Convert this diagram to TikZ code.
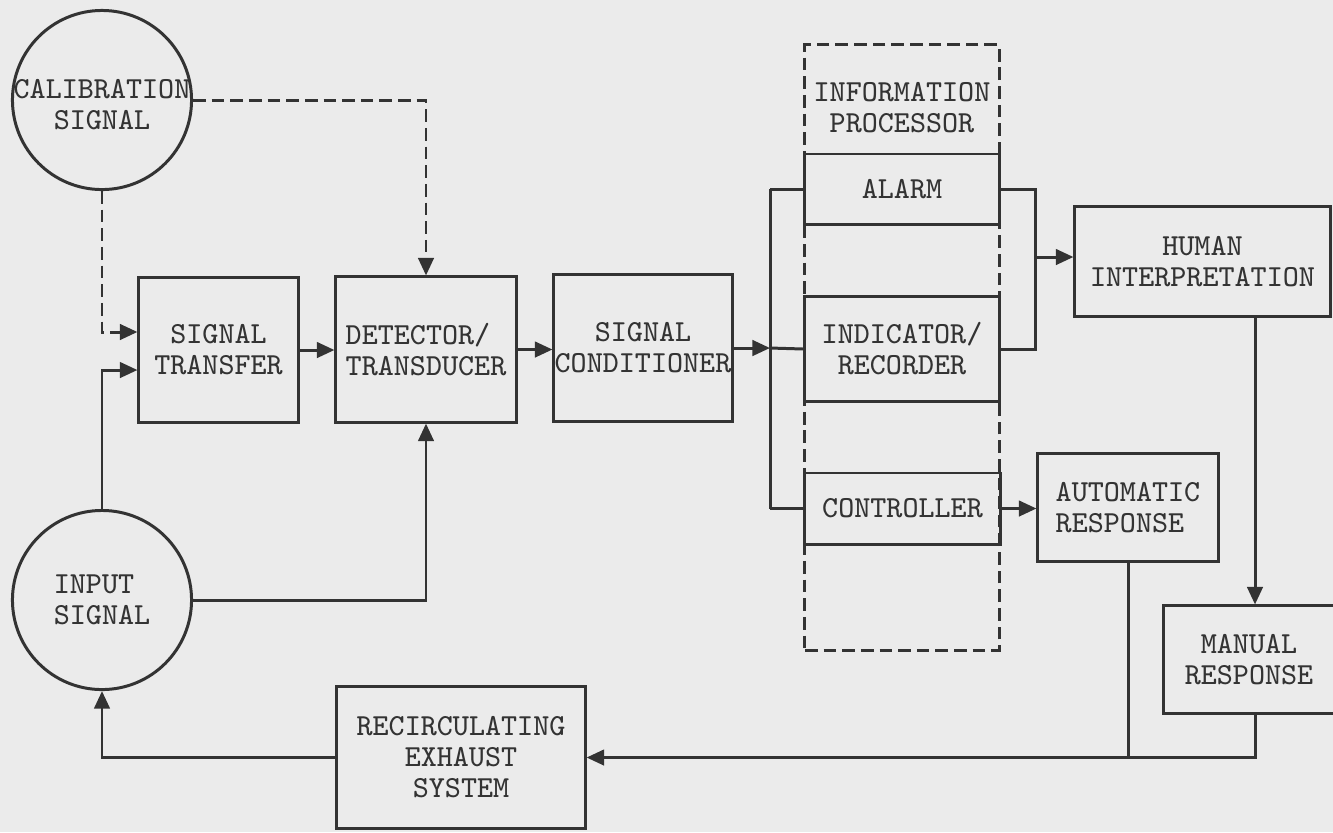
\documentclass[tikz,border=0pt]{standalone}
\usetikzlibrary{arrows.meta,calc}

\definecolor{paper}{HTML}{EBEBEB}
\definecolor{ink}{HTML}{333333}

\begin{document}
\begin{tikzpicture}[x=0.01cm,y=-0.01cm,
  line width=0.85pt, color=ink,
  every node/.style={font=\ttfamily\fontsize{8.7}{8.8}\selectfont, align=center, inner sep=1pt},
  blk/.style={draw, rectangle},
  sig/.style={draw, circle, minimum size=1.79cm, inner sep=0pt},
  arr/.style={-{Triangle[length=5pt,width=4.4pt]}},
  dsh/.style={dash pattern=on 3.6pt off 1.7pt}]

\fill[paper] (0,0) rectangle (1333,832);
\useasboundingbox (0,0) rectangle (1333,832);

% signal sources
\node[sig] (calib) at (102,100) {};
\node[yshift=-0.05cm] (calibtxt) at (calib) {CALIBRATION\\SIGNAL};
\node[sig] (input) at (102,600) {};
\node[align=left] (inputtxt) at (input) {INPUT\\SIGNAL};

% main chain
\node[blk, minimum width=1.59cm, minimum height=1.44cm] (transfer) at (218.5,350) {SIGNAL\\TRANSFER};
\node[blk, minimum width=1.80cm, minimum height=1.45cm, align=left] (det) at (426,349.5) {DETECTOR/\\TRANSDUCER};
\node[blk, minimum width=1.78cm, minimum height=1.46cm, inner sep=0pt] (cond) at (643,348) {SIGNAL\\CONDITIONER};

% information processor
\node[draw, dsh, minimum width=1.94cm, minimum height=6.05cm] (proc) at (902,347.5) {};
\node (proctxt) at (902,107.5) {INFORMATION\\PROCESSOR};
\node[blk, minimum width=1.94cm, minimum height=0.70cm] (alarm) at (902,189) {ALARM};
\node[blk, minimum width=1.94cm, minimum height=1.04cm] (ind) at (902,349) {INDICATOR/\\RECORDER};
\node[blk, minimum width=1.95cm, minimum height=0.71cm] (ctrl) at (902.5,508.5) {CONTROLLER};

% responses
\node[blk, minimum width=2.55cm, minimum height=1.09cm] (human) at (1202.5,261.5) {HUMAN\\INTERPRETATION};
\node[blk, minimum width=1.80cm, minimum height=1.07cm, align=left] (auto) at (1128,507.5) {AUTOMATIC\\RESPONSE};
\node[blk, minimum width=1.70cm, minimum height=1.07cm] (manual) at (1249,659.5) {MANUAL\\RESPONSE};
\node[blk, minimum width=2.48cm, minimum height=1.41cm] (recirc) at (461,757.5) {RECIRCULATING\\EXHAUST\\SYSTEM};

\coordinate (busT) at (770,189);
\coordinate (busB) at (770,508.5);
\coordinate (join) at (1035,257);
\coordinate (mdrop) at (1255,0);

% calibration paths
\draw[arr, dsh] (calib.east) -| (det.north);
\draw[arr, dsh] (calib.south) |- ([yshift=0.18cm]transfer.west);

% signal paths
\draw[arr] (input.north) |- ([yshift=-0.2cm]transfer.west);
\draw[arr] (input.east) -| (det.south);
\draw[arr] (transfer.east) -- (transfer.east -| det.west);
\draw[arr] (det.east) -- (det.east -| cond.west);
\draw[arr] (cond.east) -- (cond.east -| busT);

% distribution bus
\draw (busT) -- (busB);
\draw (busT) -- (alarm.west);
\draw (cond.east -| busT) -- (ind.west);
\draw (busB) -- (ctrl.west);

\draw (alarm.east) -| (join) |- (ind.east);
\draw[arr] (join) -- (join -| human.west);
\draw[arr] (ctrl.east) -- (ctrl.east -| auto.west);
\draw[arr] (human.south -| mdrop) -- (manual.north -| mdrop);

% feedback loop
\draw (auto.south) -- (auto.south |- recirc.east);
\draw[arr] (manual.south -| mdrop) |- (recirc.east);
\draw[arr] (recirc.west) -| (input.south);
\end{tikzpicture}
\end{document}
